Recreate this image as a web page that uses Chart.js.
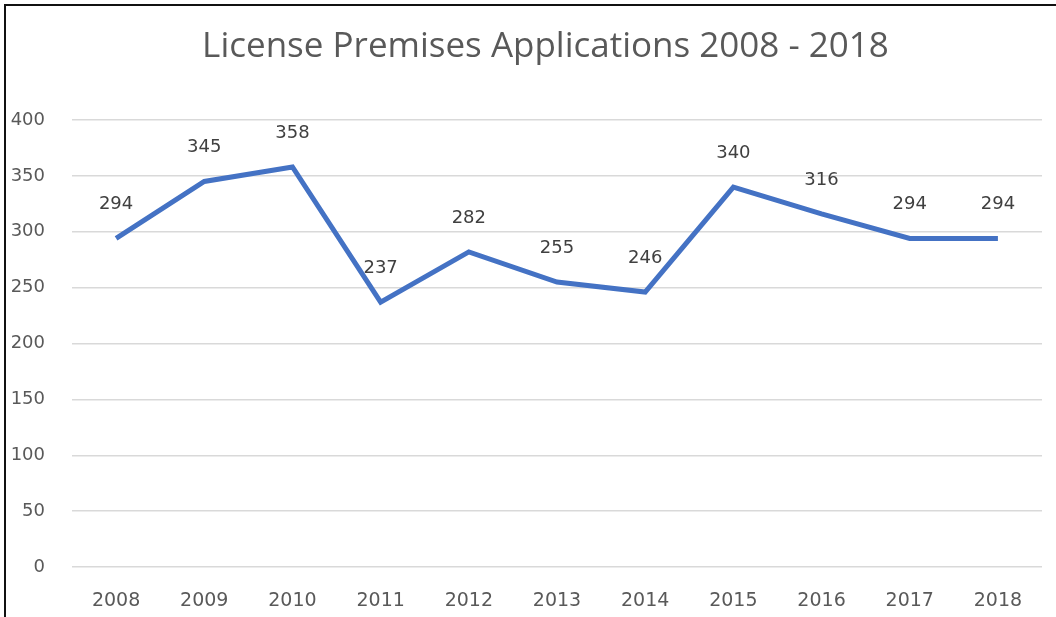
<!DOCTYPE html>
<html>
<head>
<meta charset="utf-8">
<script src="https://cdn.jsdelivr.net/npm/chart.js@4"></script>
<style>
  body { margin: 0; background: #fff; }
  #wrap { position: relative; width: 1056px; height: 617px; }
  #frame {
    position: absolute; left: 4px; top: 4px; right: -4px; bottom: -4px;
    border-left: 2px solid #111; border-top: 2px solid #111;
    pointer-events: none;
  }
</style>
</head>
<body>
<div id="wrap">
  <canvas id="chart" width="1056" height="617"></canvas>
  <div id="frame"></div>
</div>
<script>
const years = ["2008", "2009", "2010", "2011", "2012", "2013", "2014", "2015", "2016", "2017", "2018"];
const applications = [294, 345, 358, 237, 282, 255, 246, 340, 316, 294, 294];
const yTicks = [0, 50, 100, 150, 200, 250, 300, 350, 400];

const titleFont = "'Open Sans', sans-serif";
const tickFont = "'DejaVu Sans', sans-serif";

// draws the value above each point
const valueLabels = {
  id: "valueLabels",
  afterLayout(chart) {
    // centre the title over the frame, not the chart box
    chart.titleBlock.left = 48;
    chart.titleBlock.right = 1043;
  },
  afterDatasetsDraw(chart) {
    const ctx = chart.ctx;
    const meta = chart.getDatasetMeta(0);
    ctx.save();
    ctx.font = "18px " + tickFont;
    ctx.fillStyle = "#404040";
    ctx.textAlign = "center";
    ctx.textBaseline = "middle";
    meta.data.forEach((pt, i) => {
      ctx.fillText(String(applications[i]), pt.x, pt.y - 34);
    });
    ctx.restore();
  }
};

new Chart(document.getElementById("chart"), {
  type: "line",
  data: {
    labels: years,
    datasets: [{
      data: applications,
      borderColor: "#4472C4",
      borderWidth: 5,
      pointRadius: 0,
      tension: 0,
      fill: false
    }]
  },
  options: {
    responsive: false,
    animation: false,
    layout: { padding: { left: 0, right: 14, top: 0, bottom: 0 } },
    plugins: {
      legend: { display: false },
      tooltip: { enabled: false },
      title: {
        display: true,
        text: "License Premises Applications 2008 - 2018",
        color: "#595959",
        font: { family: titleFont, size: 35, weight: "normal" },
        padding: { top: 26, bottom: 52 }
      }
    },
    scales: {
      x: {
        offset: true,
        grid: { display: false, drawTicks: false },
        border: { display: false },
        ticks: { color: "#595959", font: { family: tickFont, size: 19 }, padding: 23 },
        afterFit: s => { s.height = 50; }
      },
      y: {
        min: 0,
        max: 400,
        afterBuildTicks: s => { s.ticks = yTicks.map(v => ({ value: v })); },
        grid: { color: "#d9d9d9", lineWidth: 1.5, drawTicks: false },
        border: { display: false },
        ticks: { color: "#595959", font: { family: tickFont, size: 18 }, padding: 27 },
        afterFit: s => { s.width = 72; }
      }
    }
  },
  plugins: [valueLabels]
});
</script>
</body>
</html>
